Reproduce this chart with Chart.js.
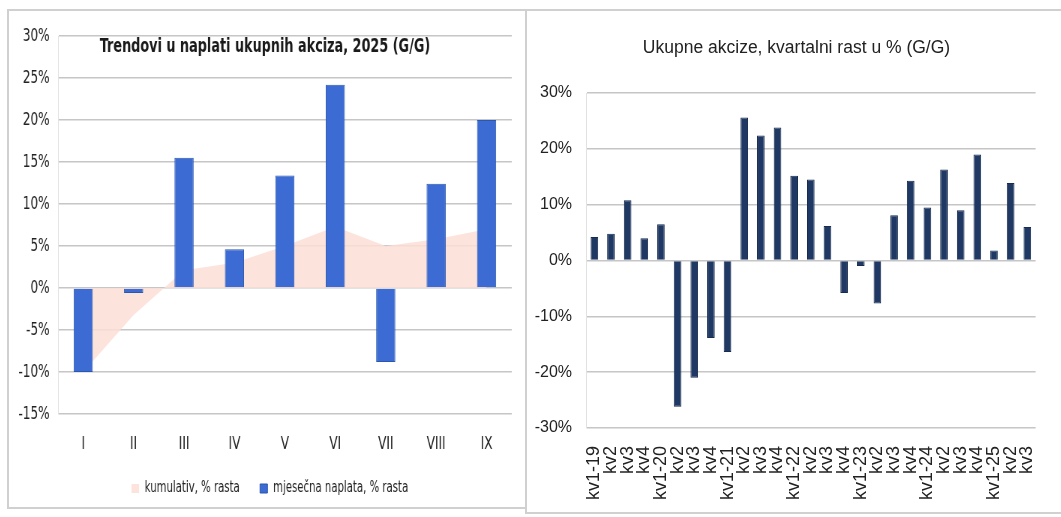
<!DOCTYPE html>
<html>
<head>
<meta charset="utf-8">
<script src="https://cdn.jsdelivr.net/npm/chart.js@4.4.1/dist/chart.umd.min.js"></script>
<style>
    body { margin: 0; background: #fff; width: 1061px; height: 517px; overflow: hidden; position: relative; }
    .panel { position: absolute; border: 2px solid #d0d0d0; box-sizing: border-box; }
    canvas { position: absolute; }
    /* the left chart in the original is squeezed sideways, so the canvas is drawn wide and squeezed */
    #monthlyChart { transform: scaleX(0.75); transform-origin: 0 0; }
</style>
</head>
<body>
<div class="panel" style="left:7px; top:9px; width:520px; height:500px;"></div>
<div class="panel" style="left:525px; top:9px; width:545px; height:505px;"></div>
<canvas id="monthlyChart" width="684" height="494" style="left:10px; top:12px;"></canvas>
<canvas id="quarterlyChart" width="530" height="500" style="left:529px; top:12px;"></canvas>
<script>
const months = ["I", "II", "III", "IV", "V", "VI", "VII", "VIII", "IX"];
const monthlyGrowth = [-10.0, -0.6, 15.5, 4.6, 13.4, 24.2, -8.8, 12.4, 20.0];
const cumulativeGrowth = [-10.0, -3.2, 2.1, 3.0, 5.0, 7.3, 5.0, 5.8, 7.0];

const quarters = ["kv1-19", "kv2", "kv3", "kv4",
                  "kv1-20", "kv2", "kv3", "kv4",
                  "kv1-21", "kv2", "kv3", "kv4",
                  "kv1-22", "kv2", "kv3", "kv4",
                  "kv1-23", "kv2", "kv3", "kv4",
                  "kv1-24", "kv2", "kv3", "kv4",
                  "kv1-25", "kv2", "kv3"];
const quarterlyGrowth = [4.2, 4.8, 10.8, 4.0, 6.5, -26.2, -21.0, -13.9, -16.4, 25.6, 22.4, 23.8,
                         15.2, 14.5, 6.2, -5.8, -1.0, -7.7, 8.1, 14.3, 9.5, 16.3, 9.0, 19.0,
                         1.8, 13.9, 6.0];

const leftTitle = "Trendovi u naplati ukupnih akciza, 2025 (G/G)";
const rightTitle = "Ukupne akcize, kvartalni rast u % (G/G)";

const narrow = "'DejaVu Sans Condensed', 'Liberation Sans', sans-serif";
const plain = "'Liberation Sans', Arial, sans-serif";

// title sits inside the plot area on the left chart
const insideTitle = {
    id: "insideTitle",
    afterDraw(chart) {
        const ctx = chart.ctx;
        ctx.save();
        ctx.font = "bold 19px " + narrow;
        ctx.fillStyle = "#1a1a1a";
        ctx.textAlign = "center";
        ctx.textBaseline = "middle";
        ctx.fillText(leftTitle, 340, 35);
        ctx.restore();
    }
};

// nudge a box sideways after layout (legend / title are a bit off centre in the original)
function nudge(key, dx) {
    return {
        id: "nudge_" + key,
        afterLayout(chart) {
            const box = chart[key];
            if (box) { box.left += dx; box.right += dx; }
        }
    };
}

new Chart("monthlyChart", {
    type: "bar",
    data: {
        labels: months,
        datasets: [
            {
                type: "line",
                label: "kumulativ, % rasta",
                data: cumulativeGrowth,
                fill: "origin",
                backgroundColor: "rgba(252, 222, 214, 0.85)",
                borderWidth: 0,
                pointRadius: 0,
                tension: 0,
                order: 2,
            },
            {
                label: "mjesečna naplata, % rasta",
                data: monthlyGrowth,
                backgroundColor: "#3b6bd3",
                borderColor: "#2b57ad",
                borderWidth: 1,
                barPercentage: 0.38,
                categoryPercentage: 1,
                order: 1,
            },
        ],
    },
    options: {
        responsive: false,
        animation: false,
        layout: { padding: { top: 24, right: 15, left: 0, bottom: 0 } },
        plugins: {
            tooltip: { enabled: false },
            legend: {
                position: "bottom",
                labels: {
                    font: { family: narrow, size: 15 },
                    color: "#222",
                    boxWidth: 10,
                    boxHeight: 9,
                    padding: 27,
                    sort: (a, b) => a.datasetIndex - b.datasetIndex,
                },
            },
        },
        scales: {
            x: {
                grid: { display: false, drawTicks: false },
                border: { display: false },
                ticks: { font: { family: narrow, size: 18 }, color: "#222", padding: 20 },
                afterFit: (scale) => { scale.height = 40; },
            },
            y: {
                min: -15,
                max: 30,
                ticks: {
                    stepSize: 5,
                    font: { family: narrow, size: 18 },
                    color: "#222",
                    padding: 11,
                    callback: (v) => v + "%",
                },
                grid: { color: "#c6c6c6", lineWidth: 1.5, drawTicks: false },
                border: { color: "#e2e2e2" },
                afterFit: (scale) => { scale.width = 64; },
            },
        },
    },
    plugins: [insideTitle, nudge("legend", 12)],
});

new Chart("quarterlyChart", {
    type: "bar",
    data: {
        labels: quarters,
        datasets: [
            {
                label: "kvartalni rast",
                data: quarterlyGrowth,
                backgroundColor: "#1f3864",
                borderColor: "#182c50",
                borderWidth: 1,
                barPercentage: 0.46,
                categoryPercentage: 1,
            },
        ],
    },
    options: {
        responsive: false,
        animation: false,
        layout: { padding: { top: 0, right: 5, left: 0, bottom: 0 } },
        plugins: {
            tooltip: { enabled: false },
            legend: { display: false },
            title: {
                display: true,
                text: rightTitle,
                font: { family: plain, size: 17.5, weight: "normal" },
                color: "#222",
                padding: { top: 26, bottom: 34 },
            },
        },
        scales: {
            x: {
                grid: { display: false },
                border: { display: false },
                ticks: {
                    font: { family: plain, size: 18 },
                    color: "#222",
                    padding: 10,
                    minRotation: 90,
                    maxRotation: 90,
                    autoSkip: false,
                },
                afterFit: (scale) => { scale.height = 84; },
            },
            y: {
                min: -30,
                max: 30,
                ticks: {
                    stepSize: 10,
                    font: { family: plain, size: 16 },
                    color: "#222",
                    padding: 14,
                    callback: (v) => v + "%",
                },
                grid: { color: "#c6c6c6", lineWidth: 1.5, drawTicks: false },
                border: { color: "#e2e2e2" },
                afterFit: (scale) => { scale.width = 57; },
            },
        },
    },
    plugins: [nudge("titleBlock", 5)],
});
</script>
</body>
</html>
